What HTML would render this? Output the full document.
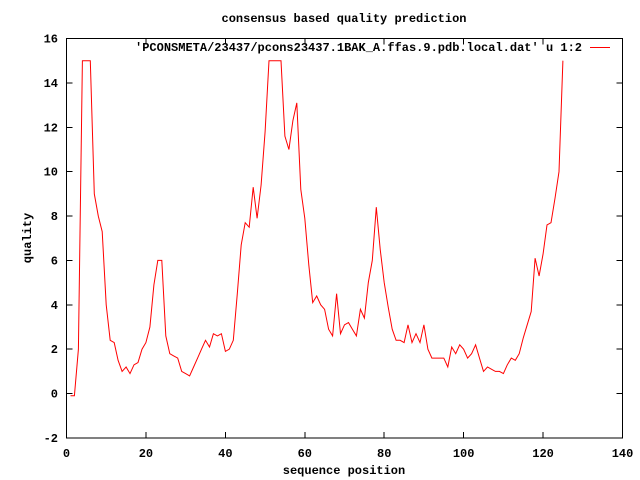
<!DOCTYPE html>
<html><head><meta charset="utf-8"><style>html,body{margin:0;padding:0;background:#fff}svg{display:block}text{font-family:"Liberation Mono",monospace;font-weight:bold;font-size:12px;fill:#000}</style></head>
<body>
<svg id="chart" width="640" height="480" viewBox="0 0 640 480" xmlns="http://www.w3.org/2000/svg">
<rect width="640" height="480" fill="#fff"/>
<text x="344" y="22" text-anchor="middle" textLength="245" lengthAdjust="spacingAndGlyphs">consensus based quality prediction</text>
<g id="axes" shape-rendering="crispEdges"></g>
<rect x="66.5" y="38.5" width="556" height="399.5" fill="none" stroke="#000" stroke-width="1" shape-rendering="crispEdges"/>
<text x="582" y="51" text-anchor="end" textLength="447" lengthAdjust="spacingAndGlyphs">'PCONSMETA/23437/pcons23437.1BAK_A.ffas.9.pdb.local.dat' u 1:2</text>
<line x1="590" y1="47.5" x2="610" y2="47.5" stroke="#ff0000" stroke-width="1" shape-rendering="crispEdges"/>
<text x="344" y="474" text-anchor="middle">sequence position</text>
<text x="0" y="0" text-anchor="middle" transform="translate(31,238) rotate(-90)">quality</text>
<path id="series" fill="none" stroke="#f00" stroke-width="1"/>
</svg>
<script>
const xTicks=[0,20,40,60,80,100,120,140];
const yTicks=[-2,0,2,4,6,8,10,12,14,16];
const positions=[1,2,3,4,5,6,7,8,9,10,11,12,13,14,15,16,17,18,19,20,21,22,23,24,25,26,27,28,29,30,31,32,33,34,35,36,37,38,39,40,41,42,43,44,45,46,47,48,49,50,51,52,53,54,55,56,57,58,59,60,61,62,63,64,65,66,67,68,69,70,71,72,73,74,75,76,77,78,79,80,81,82,83,84,85,86,87,88,89,90,91,92,93,94,95,96,97,98,99,100,101,102,103,104,105,106,107,108,109,110,111,112,113,114,115,116,117,118,119,120,121,122,123,124,125];
const quality=[-0.1,-0.1,2,15,15,15,9,8,7.3,4,2.4,2.3,1.5,1.0,1.2,0.9,1.3,1.4,2.0,2.3,3,4.9,6,6,2.6,1.8,1.7,1.6,1.0,0.9,0.8,1.2,1.6,2.0,2.4,2.1,2.7,2.6,2.7,1.9,2.0,2.4,4.5,6.7,7.7,7.5,9.3,7.9,9.4,11.8,15,15,15,15,11.6,11,12.3,13.1,9.2,7.9,5.8,4.1,4.4,4,3.8,2.9,2.6,4.5,2.7,3.1,3.2,2.9,2.6,3.8,3.4,5,6,8.4,6.5,5,3.9,2.9,2.4,2.4,2.3,3.1,2.3,2.7,2.3,3.1,2.0,1.6,1.6,1.6,1.6,1.2,2.1,1.8,2.2,2.0,1.6,1.8,2.2,1.6,1.0,1.2,1.1,1.0,1.0,0.9,1.3,1.6,1.5,1.8,2.5,3.1,3.7,6.1,5.3,6.3,7.6,7.7,8.8,10,15];
const X0=66.5,X1=622.5,Y0=438,Y1=38.5;
const xs=v=>X0+(v-0)/(140-0)*(X1-X0);
const ys=v=>Y0-(v+2)/(16+2)*(Y0-Y1);
const NS="http://www.w3.org/2000/svg";
const axes=document.getElementById('axes');
function mk(t,a){const e=document.createElementNS(NS,t);for(const k in a)e.setAttribute(k,a[k]);axes.appendChild(e);return e;}
xTicks.forEach(v=>{
  const x=xs(v);
  const t1=mk('line',{x1:x,y1:Y0,x2:x,y2:Y0-6,stroke:'#000'});
  
  
  const t2=mk('line',{x1:x,y1:Y1,x2:x,y2:Y1+6,stroke:'#000'});
  
  
  const l=mk('text',{x:x,y:457,'text-anchor':'middle'});
  l.textContent=v;
  
  
});
yTicks.forEach(v=>{
  const y=ys(v);
  const t1=mk('line',{x1:X0,y1:y,x2:X0+6,y2:y,stroke:'#000'});
  
  
  const t2=mk('line',{x1:X1,y1:y,x2:X1-6,y2:y,stroke:'#000'});
  
  
  const l=mk('text',{x:58,y:y+4,'text-anchor':'end'});
  l.textContent=v;
  
  
});
let d='';
positions.forEach((p,i)=>{d+=(i?'L':'M')+xs(p).toFixed(1)+' '+ys(quality[i]).toFixed(1);});
document.getElementById('series').setAttribute('d',d);
</script>
</body></html>
